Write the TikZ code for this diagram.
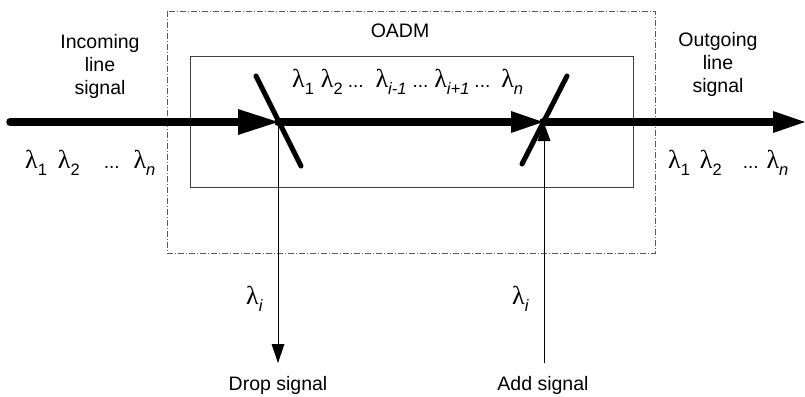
\documentclass[tikz,border=0pt]{standalone}
\usepackage{fontspec}
\setmainfont{Liberation Sans}
\newfontfamily\serifgr{Liberation Serif}
\usetikzlibrary{arrows.meta}
\newcommand\mylam[1]{{\fontsize{26}{26}\selectfont\serifgr λ}\raisebox{-7pt}{\fontsize{16.5}{16.5}\selectfont #1}}
\newcommand\mydots{{\fontsize{19}{19}\selectfont ...}}
\begin{document}
\begin{tikzpicture}[x=1pt,y=-1pt,
  txt/.style={font=\fontsize{19.5}{23}\selectfont, align=center, inner sep=0pt},
  lam/.style={inner sep=0pt},
  mainline/.style={line width=7.5pt, line cap=round},
  bigtip/.style={-{Triangle[length=40pt,width=26pt,line width=0pt]}},
  smalltip/.style={-{Triangle[length=32pt,width=22pt,line width=0pt]}},
  mirror/.style={line width=5pt, line cap=round},
  thinarrow/.style={line width=0.9pt, -{Triangle[length=19pt,width=13pt,line width=0pt]}},
  dashbox/.style={draw=black!65, line width=0.8pt, dash pattern=on 6pt off 2pt on 1pt off 2pt},
  innerbox/.style={draw=black!75, line width=0.9pt}
]
\useasboundingbox (0,0) rectangle (805,396);
% boxes
\draw[dashbox] (167,11) rectangle (655,253);
\draw[innerbox] (190,56) rectangle (633,187);
% coordinates
\coordinate (in) at (10,122);
\coordinate (m1) at (278,122);
\coordinate (m2) at (543,122);
\coordinate (out) at (805,122);
\coordinate (drop) at (278,363);
\coordinate (add) at (544,363);
\coordinate (addtip) at (544,123);
% thin drop/add lines
\draw[thinarrow] (m1) -- (drop);
\draw[thinarrow, -{Triangle[length=18pt,width=13pt,line width=0pt]}] (add) -- (addtip);
% main line
\draw[mainline, bigtip] (in) -- (m1);
\draw[mainline, smalltip] (m1) -- (m2);
\draw[mainline, smalltip] (m2) -- (out);
% mirrors
\draw[mirror] (256,76) -- (301,166);
\draw[mirror] (567,76) -- (522,164);
% texts
\node[txt] (inlabel) at (100,66) {Incoming\\line\\signal};
\node[txt] (outlabel) at (718,64) {Outgoing\\line\\signal};
\node[txt] (oadm) at (400,31) {OADM};
\node[txt] (droplabel) at (278,385) {Drop signal};
\node[txt] (addlabel) at (543,385) {Add signal};
\node[lam, anchor=base west] (inlam) at (25,168) {\mylam{1}\hspace{11pt}\mylam{2}\hspace{24pt}\mydots\hspace{14pt}\mylam{\textit{n}}};
\node[lam, anchor=base west] (outlam) at (668,168) {\mylam{1}\hspace{10pt}\mylam{2}\hspace{21pt}\mydots\hspace{8pt}\mylam{\textit{n}}};
\node[lam, anchor=base west] (toplam) at (292,87) {\mylam{1}\hspace{7pt}\mylam{2}\hspace{5pt}\mydots\hspace{12pt}\mylam{\textit{i-1}}\hspace{6pt}\mydots\hspace{6pt}\mylam{\textit{i+1}}\hspace{5pt}\mydots\hspace{11pt}\mylam{\textit{n}}};
\node[lam, anchor=base west] (droplam) at (246,304) {\mylam{\textit{i}}};
\node[lam, anchor=base west] (addlam) at (512,304) {\mylam{\textit{i}}};
\end{tikzpicture}
\end{document}
